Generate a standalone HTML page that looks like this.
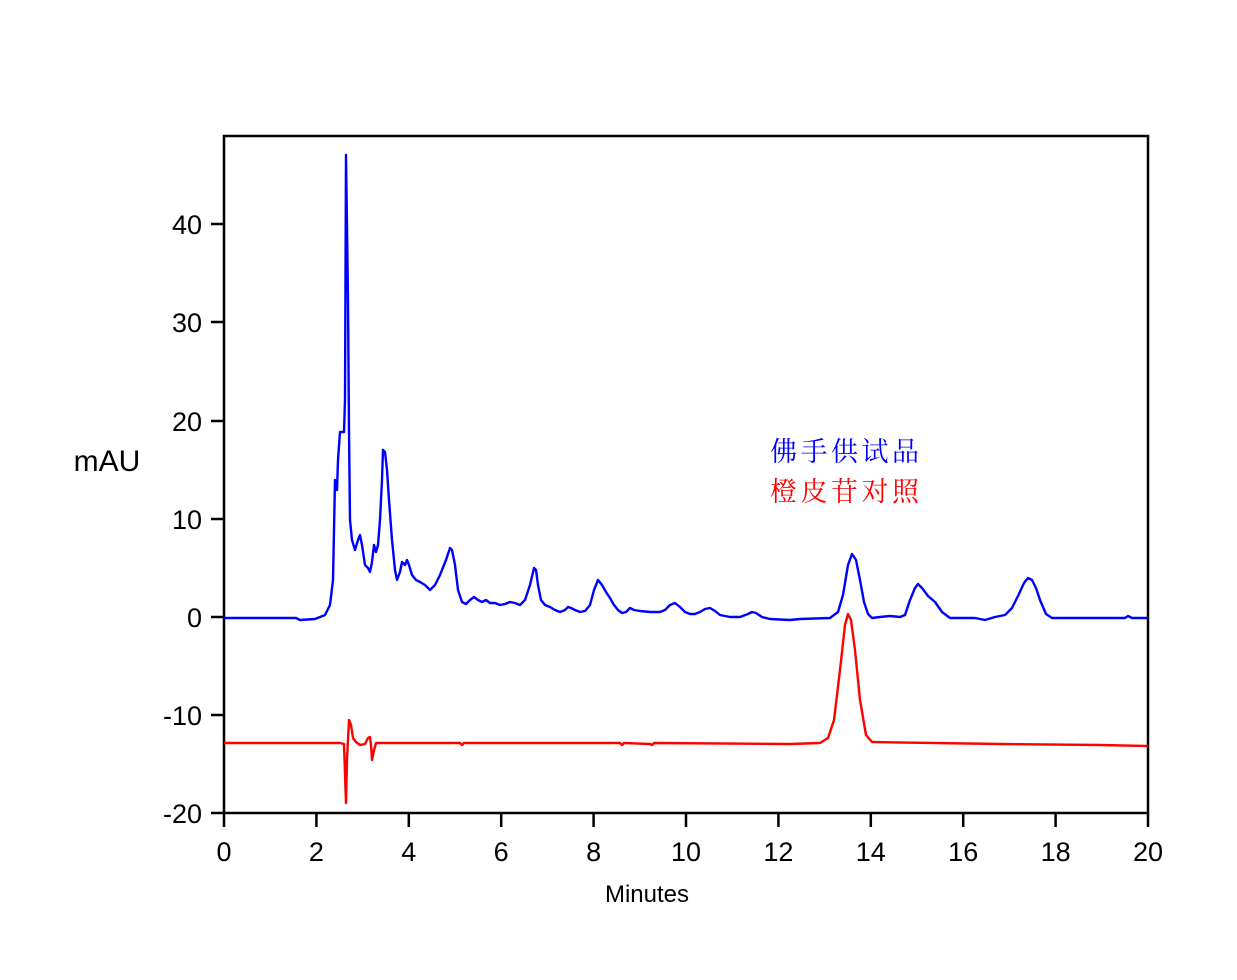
<!DOCTYPE html>
<html><head><meta charset="utf-8"><style>body{margin:0;background:#fff}svg{display:block}</style></head><body>
<svg width="1237" height="980" xmlns="http://www.w3.org/2000/svg" font-family="Liberation Sans, sans-serif">
<rect width="1237" height="980" fill="#fff"/>
<g stroke="#000" stroke-width="2.5" fill="none">
<rect x="224" y="136" width="924" height="677"/>
<path d="M224,813v14M316.4,813v14M408.8,813v14M501.2,813v14M593.6,813v14M686,813v14M778.4,813v14M870.8,813v14M963.2,813v14M1055.6,813v14M1148,813v14"/>
<path d="M211,813h13M211,715h13M211,617h13M211,519h13M211,421h13M211,322h13M211,224h13"/>
</g>
<g font-size="27" fill="#000" text-anchor="middle">
<text x="224" y="861">0</text><text x="316.4" y="861">2</text><text x="408.8" y="861">4</text><text x="501.2" y="861">6</text><text x="593.6" y="861">8</text><text x="686" y="861">10</text><text x="778.4" y="861">12</text><text x="870.8" y="861">14</text><text x="963.2" y="861">16</text><text x="1055.6" y="861">18</text><text x="1148" y="861">20</text>
</g>
<g font-size="27" fill="#000" text-anchor="end">
<text x="202" y="823">-20</text><text x="202" y="725">-10</text><text x="202" y="627">0</text><text x="202" y="529">10</text><text x="202" y="431">20</text><text x="202" y="332">30</text><text x="202" y="234">40</text>
</g>
<text x="107" y="471" font-size="30" text-anchor="middle">mAU</text>
<text x="647" y="902" font-size="24" text-anchor="middle">Minutes</text>
<text x="770" y="461" font-size="27" fill="#0000ff" letter-spacing="3.5" font-family="Liberation Serif, Noto Serif CJK SC, serif">佛手供试品</text>
<text x="770" y="501" font-size="27" fill="#ff0000" letter-spacing="3.5" font-family="Liberation Serif, Noto Serif CJK SC, serif">橙皮苷对照</text>
<polyline fill="none" stroke="#0000ff" stroke-width="2.4" stroke-linejoin="round" points="224,618 296,618 300,620 315,619 325,615 330,605 333,580 335,480 337,490 338,460 340,432 344,432 345,400 346,155 348,300 349,430 350,520 352,540 355,550 358,540 360,535 362,545 365,565 368,568 370,572 372,562 374,545 376,552 378,545 380,520 382,480 383,450 385,452 387,470 389,500 392,540 395,570 397,580 400,572 402,562 405,565 407,560 409,565 412,575 416,580 420,582 425,585 430,590 435,585 440,575 446,560 450,548 452,550 455,565 458,590 462,602 466,604 470,600 474,597 478,600 482,602 486,600 490,603 495,603 500,605 505,604 510,602 515,603 520,605 525,600 530,585 534,568 536,570 538,585 541,600 545,605 550,607 555,610 560,612 565,610 568,607 571,608 575,610 580,612 585,611 590,605 594,590 598,580 602,585 606,592 610,598 614,605 618,610 622,613 626,612 630,608 634,610 640,611 650,612 660,612 665,610 670,605 675,603 680,607 685,612 690,614 695,614 700,612 705,609 710,608 715,611 720,615 730,617 740,617 748,614 752,612 756,613 762,617 770,619 790,620 800,619 830,618 838,612 843,595 848,565 852,554 856,560 860,580 864,602 868,614 872,618 880,617 890,616 900,617 905,615 910,600 915,588 918,584 922,588 928,596 935,602 942,612 950,618 975,618 985,620 995,617 1005,615 1012,608 1018,596 1024,583 1028,578 1032,580 1036,588 1040,600 1046,614 1052,618 1125,618 1128,616 1132,618 1148,618"/>
<polyline fill="none" stroke="#ff0000" stroke-width="2.4" stroke-linejoin="round" points="224,743 340,743 344,744 346,803 347,760 349,720 351,725 353,738 356,742 360,745 365,744 368,738 370,737 371,745 372,760 374,750 376,743 460,743 462,745 464,743 620,743 622,745 624,743 650,744 652,745 654,743 790,744 820,743 828,738 834,720 840,670 845,625 848,614 851,620 855,650 860,700 866,735 872,742 1000,744 1100,745 1148,746"/>
</svg>
</body></html>
